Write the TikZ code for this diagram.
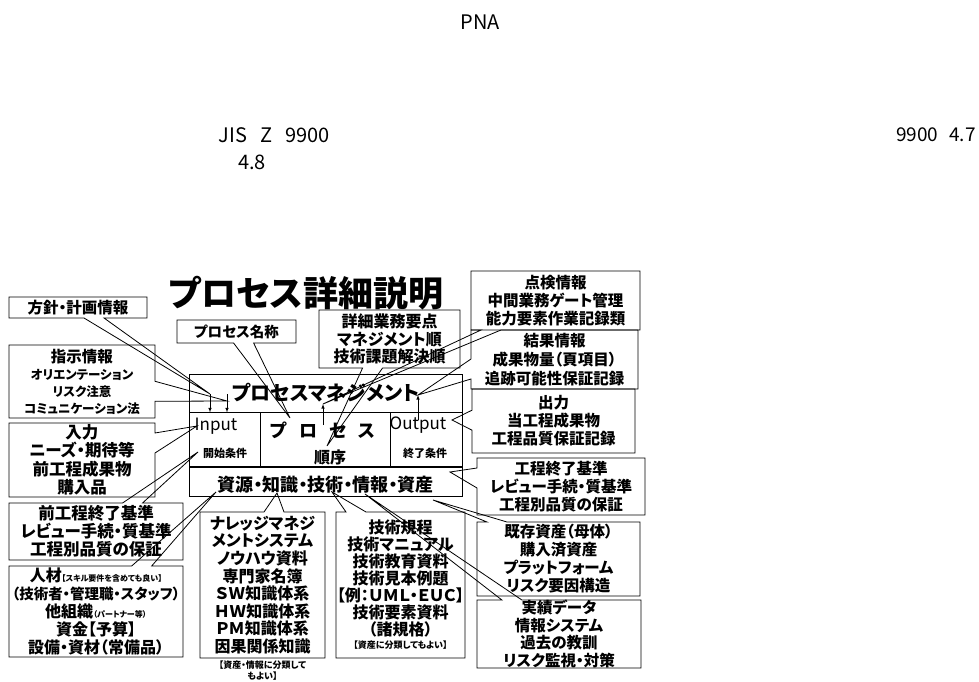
\documentclass[tikz,border=0pt]{standalone}
\usepackage{fontspec}
\setmainfont{Noto Sans CJK JP}[RawFeature=+palt]
\usetikzlibrary{positioning,shapes.callouts}
\newcommand{\fsz}[2]{\fontsize{#1}{#2}\selectfont}
\tikzset{
	note/.style={rectangle callout,draw,line width=0.8pt,inner sep=0pt,
		align=center,callout pointer width=20pt,font=\bfseries\fsz{15.5}{18}},
	cell/.style={draw,line width=0.8pt,inner sep=0pt},
	plain/.style={inner sep=0pt,font=\fsz{17}{20}},
	head/.style={inner sep=0pt,font=\fsz{20}{24}},
	lbl/.style={inner sep=0pt,font=\bfseries\fsz{11}{13}}
}
\begin{document}
\begin{tikzpicture}[x=1pt,y=-1pt,node distance=-\pgflinewidth,>=latex]
\useasboundingbox (0,0) rectangle (979,682);

\node[head] (pna) at (480,22) {PNA};
\node[head] (jis) at (274,135) {JIS\hspace{13pt}Z\hspace{13pt}9900};
\node[head,font=\fsz{19}{24}] (sec) at (936,135) {9900\hspace{11pt}4.7};
\node[head] (sub) at (252,162) {4.8};

\node[inner sep=0pt,font=\bfseries\fsz{35}{40}] (title) at (306,293) {プロセス詳細説明};

% process frame
\node[cell,minimum width=273pt,minimum height=38pt,font=\bfseries\fsz{20}{24}] (mgmt) at (325.5,393) {プロセスマネジメント};
\node[cell,minimum width=71pt,minimum height=54pt,anchor=north west] (incell) at (mgmt.south west) {};
\node[cell,minimum width=130pt,minimum height=54pt,right=of incell] (proccell) {};
\node[cell,minimum width=72pt,minimum height=54pt,right=of proccell] (outcell) {};
\node[cell,minimum width=273pt,minimum height=29pt,anchor=north west] (rescell) at (incell.south west) {};

\node[plain] (input) at (216,426) {Input};
\node[lbl] (startc) at (225,453) {開始条件};
\node[inner sep=0pt,font=\bfseries\fsz{18}{22}] (proc) at (323,430) {プ\hspace{12pt}ロ\hspace{12pt}セ\hspace{12pt}ス};
\node[inner sep=0pt,font=\bfseries\fsz{16}{19}] (order) at (330,457) {順序};
\node[plain] (output) at (418,425) {Output};
\node[lbl] (endc) at (425,453) {終了条件};
\node[inner sep=0pt,font=\bfseries\fsz{18}{22}] (res) at (325.5,485) {資源・知識・技術・情報・資産};

% pointer tips
\coordinate (hoshin tip) at (210,394);
\coordinate (shiji tip) at (227,401);
\coordinate (nyu tip) at (197,426);
\coordinate (mae tip) at (198,452);
\coordinate (jin tip) at (216,492);
\coordinate (meisho tip) at (290,418);
\coordinate (shosai tip) at (327,446);
\coordinate (tenken tip) at (323,404);
\coordinate (tenken foot) at (323,425);
\coordinate (kekka tip) at (418,395);
\coordinate (kekka foot) at (418,420);
\coordinate (shutsu tip) at (452,420);
\coordinate (kijun tip) at (450,472);
\coordinate (kison tip) at (433,500);
\coordinate (jisseki tip) at (365,494);
\coordinate (know tip) at (277,493);
\coordinate (gijutsu tip) at (332,492);

\draw[->,line width=0.6pt] (hoshin tip) -- (hoshin tip |- mgmt.south);
\draw[->,line width=0.6pt] (shiji tip |- hoshin tip) -- (shiji tip |- mgmt.south);
\draw[->,line width=0.6pt] (tenken foot) -- (tenken tip);
\draw[->,line width=0.6pt] (kekka foot) -- (kekka tip);

% callouts, left
\node[note,minimum width=138pt,minimum height=21pt,callout absolute pointer={(hoshin tip)}] (hoshin) at (78,307.5) {方針・計画情報};
\node[note,minimum width=146pt,minimum height=73pt,font=\bfseries\fsz{12.5}{17},callout absolute pointer={(shiji tip)}] (shiji) at (82,381.5) {{\fsz{15.5}{17}指示情報}\\オリエンテーション\\リスク注意\\コミュニケーション法};
\node[note,minimum width=146pt,minimum height=74pt,font=\bfseries\fsz{16.5}{18.5},callout absolute pointer={(nyu tip)}] (nyu) at (82,460) {入力\\ニーズ・期待等\\前工程成果物\\購入品};
\node[note,minimum width=174pt,minimum height=57pt,font=\bfseries\fsz{16.5}{18},callout absolute pointer={(mae tip)}] (mae) at (96,531.5) {前工程終了基準\\レビュー手続・質基準\\工程別品質の保証};
\node[note,minimum width=174pt,minimum height=91pt,font=\bfseries\fsz{16}{18},callout absolute pointer={(jin tip)}] (jin) at (96,611.5) {人材{\fsz{8}{10}【スキル要件を含めても良い】}\\{\fsz{14.5}{18}（技術者・管理職・スタッフ）}\\他組織{\fsz{8}{10}（パートナー等）}\\資金【予算】\\設備・資材（常備品）};

% callouts, top
\node[note,minimum width=119pt,minimum height=23pt,font=\bfseries\fsz{14.5}{17},callout absolute pointer={(meisho tip)}] (meisho) at (236.5,331.5) {プロセス名称};
\node[note,minimum width=141pt,minimum height=58pt,font=\bfseries\fsz{16}{17.5},callout absolute pointer={(shosai tip)}] (shosai) at (389.5,339) {詳細業務要点\\マネジメント順\\技術課題解決順};

% callouts, right
\node[note,minimum width=169pt,minimum height=59pt,callout absolute pointer={(tenken tip)}] (tenken) at (555.5,300.5) {点検情報\\中間業務ゲート管理\\能力要素作業記録類};
\node[note,minimum width=167pt,minimum height=59pt,font=\bfseries\fsz{15.5}{19},callout absolute pointer={(kekka tip)}] (kekka) at (554.5,359.5) {結果情報\\成果物量（頁項目）\\追跡可能性保証記録};
\node[note,minimum width=163pt,minimum height=64pt,callout absolute pointer={(shutsu tip)}] (shutsu) at (553.5,421) {出力\\当工程成果物\\工程品質保証記録};
\node[note,minimum width=168pt,minimum height=57pt,callout absolute pointer={(kijun tip)}] (kijun) at (561,486.5) {工程終了基準\\レビュー手続・質基準\\工程別品質の保証};
\node[note,minimum width=163pt,minimum height=74pt,font=\bfseries\fsz{15.5}{18},callout absolute pointer={(kison tip)}] (kison) at (558.5,559) {既存資産（母体）\\購入済資産\\プラットフォーム\\リスク要因構造};
\node[note,minimum width=164pt,minimum height=68pt,font=\bfseries\fsz{15.5}{17.5},callout absolute pointer={(jisseki tip)}] (jisseki) at (559,634) {実績データ\\情報システム\\過去の教訓\\リスク監視・対策};

% callouts, bottom
\node[note,minimum width=125pt,minimum height=146pt,font=\bfseries\fsz{16}{17.6},callout absolute pointer={(know tip)}] (know) at (262.5,585) {ナレッジマネジ\\メントシステム\\ノウハウ資料\\専門家名簿\\ＳＷ知識体系\\ＨＷ知識体系\\ＰＭ知識体系\\因果関係知識};
\node[inner sep=0pt,align=center,font=\bfseries\fsz{9}{11},below=2pt of know] (knownote) {【資産・情報に分類して\\もよい】};
\node[note,minimum width=129pt,minimum height=146pt,font=\bfseries\fsz{16}{17},callout absolute pointer={(gijutsu tip)}] (gijutsu) at (400.5,585) {技術規程\\技術マニュアル\\技術教育資料\\技術見本例題\\【例：ＵＭＬ・ＥＵＣ】\\技術要素資料\\（諸規格）\\[-4pt]{\fsz{9}{11}【資産に分類してもよい】}};

\end{tikzpicture}
\end{document}
